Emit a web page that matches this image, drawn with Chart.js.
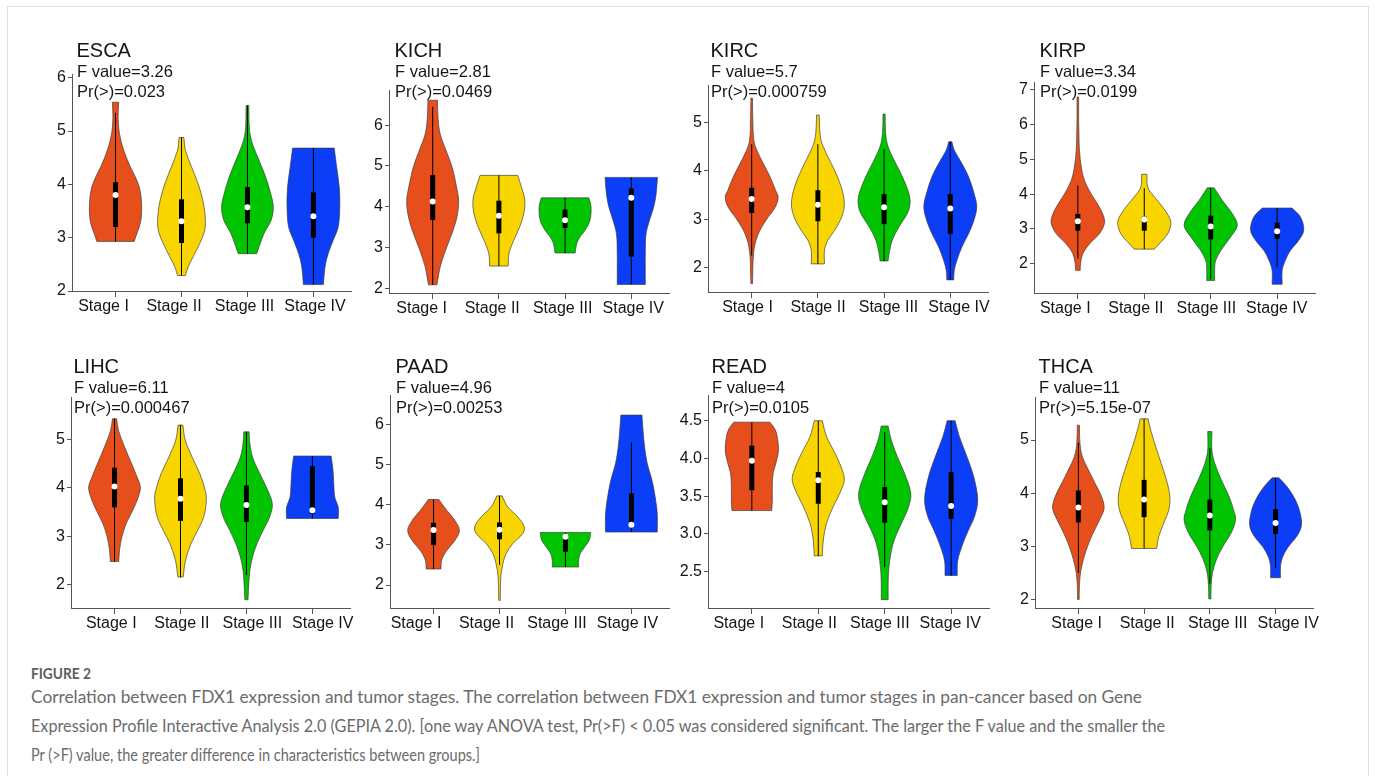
<!DOCTYPE html>
<html>
<head>
<meta charset="utf-8">
<title>FDX1 expression by tumor stage</title>
<script src="https://cdn.jsdelivr.net/npm/chart.js@4.4.1/dist/chart.umd.min.js"></script>
<style>
  html, body { margin: 0; padding: 0; background: #fff; }
  #page { position: relative; width: 1375px; height: 776px; overflow: hidden; background: #fff; }
  #frame { position: absolute; left: 7px; top: 6px; width: 1362px; height: 820px;
           border: 1.5px solid #dedede; border-bottom: none; box-sizing: border-box; }
  .cap { position: absolute; left: 31px; white-space: nowrap; font-family: Lato, "Open Sans", sans-serif;
         color: #6b6b6b; font-size: 17px; line-height: 17px; transform-origin: 0 0; }
  #capHead { font-weight: 700; color: #5e5e5e; font-size: 16px; }
</style>
</head>
<body>
<div id="page">
  <div id="frame"></div>
  <div class="cap" id="capHead">FIGURE 2</div>
  <div class="cap" id="cap1">Correlation between FDX1 expression and tumor stages. The correlation between FDX1 expression and tumor stages in pan-cancer based on Gene</div>
  <div class="cap" id="cap2">Expression Profile Interactive Analysis 2.0 (GEPIA 2.0). [one way ANOVA test, Pr(&gt;F) &lt; 0.05 was considered significant. The larger the F value and the smaller the</div>
  <div class="cap" id="cap3">Pr (&gt;F) value, the greater difference in characteristics between groups.]</div>
</div>
<script>
// ---------------- data ----------------
const STAGES = ['Stage I', 'Stage II', 'Stage III', 'Stage IV'];
const CANCERS = ['ESCA', 'KICH', 'KIRC', 'KIRP', 'LIHC', 'PAAD', 'READ', 'THCA'];
const F_VALUES = ['3.26', '2.81', '5.7', '3.34', '6.11', '4.96', '4', '11'];
const P_VALUES = ['0.023', '0.0469', '0.000759', '0.0199', '0.000467', '0.00253', '0.0105', '5.15e-07'];

// y-axis limits and tick values per cancer type
const ESCA_Y = [2, 6.07],   ESCA_TICKS = [2, 3, 4, 5, 6];
const KICH_Y = [1.89, 6.86], KICH_TICKS = [2, 3, 4, 5, 6];
const KIRC_Y = [1.5, 5.77], KIRC_TICKS = [2, 3, 4, 5];
const KIRP_Y = [1.16, 7.22], KIRP_TICKS = [2, 3, 4, 5, 6, 7];
const LIHC_Y = [1.52, 5.88], LIHC_TICKS = [2, 3, 4, 5];
const PAAD_Y = [1.43, 6.73], PAAD_TICKS = [2, 3, 4, 5, 6];
const READ_Y = [2.02, 4.84], READ_TICKS = [2.5, 3, 3.5, 4, 4.5];
const THCA_Y = [1.84, 5.81], THCA_TICKS = [2, 3, 4, 5];
const READ_TICK_LABELS = ['2.5', '3.0', '3.5', '4.0', '4.5'];

// violin density profiles: [expression value, relative half-width], bottom to top
const ESCA_I   = [[2.93,0.71],[3.08,0.81],[3.2,0.9],[3.39,0.98],[3.7,0.98],[3.95,0.9],[4.14,0.75],[4.33,0.56],[4.64,0.31],[4.95,0.15],[5.26,0.1],[5.54,0.12]];
const ESCA_II  = [[2.29,0.15],[2.45,0.25],[2.64,0.44],[2.89,0.69],[3.14,0.88],[3.39,0.9],[3.7,0.81],[4.01,0.63],[4.33,0.38],[4.64,0.15],[4.88,0.09]];
const ESCA_III = [[2.7,0.35],[2.83,0.44],[3.08,0.63],[3.33,0.9],[3.58,0.98],[3.83,0.88],[4.14,0.69],[4.45,0.44],[4.76,0.19],[5.01,0.08],[5.48,0.05]];
const ESCA_IV  = [[2.12,0.38],[2.45,0.44],[2.7,0.56],[2.95,0.75],[3.2,0.94],[3.58,1.0],[3.95,0.98],[4.33,0.88],[4.68,0.79]];

const KICH_I   = [[2.09,0.16],[2.2,0.19],[2.52,0.28],[2.85,0.44],[3.18,0.63],[3.5,0.81],[3.83,0.94],[4.16,0.98],[4.49,0.9],[4.98,0.73],[5.39,0.5],[5.79,0.28],[6.2,0.2],[6.61,0.18]];
const KICH_II  = [[2.55,0.35],[2.85,0.38],[3.18,0.56],[3.5,0.78],[3.83,0.94],[4.16,0.98],[4.49,0.85],[4.77,0.71]];
const KICH_III = [[2.87,0.38],[3.1,0.44],[3.26,0.56],[3.42,0.75],[3.67,0.94],[4.0,0.98],[4.22,0.9]];
const KICH_IV  = [[2.1,0.53],[2.36,0.53],[2.85,0.53],[3.34,0.56],[3.67,0.69],[4.0,0.85],[4.32,0.94],[4.72,0.99]];

const KIRC_I   = [[1.67,0.03],[1.88,0.04],[2.22,0.06],[2.5,0.13],[2.77,0.31],[3.05,0.63],[3.26,0.9],[3.46,1.0],[3.6,0.9],[3.88,0.69],[4.15,0.44],[4.43,0.19],[4.63,0.08],[5.12,0.04],[5.5,0.03]];
const KIRC_II  = [[2.08,0.25],[2.36,0.25],[2.57,0.38],[2.77,0.63],[3.05,0.9],[3.32,1.0],[3.67,0.88],[4.01,0.63],[4.29,0.38],[4.57,0.15],[4.77,0.08],[5.15,0.05]];
const KIRC_III = [[2.14,0.15],[2.29,0.19],[2.57,0.31],[2.84,0.56],[3.12,0.88],[3.32,0.98],[3.53,0.94],[3.88,0.69],[4.22,0.38],[4.5,0.15],[4.77,0.06],[5.17,0.04]];
const KIRC_IV  = [[1.75,0.13],[1.94,0.15],[2.15,0.25],[2.43,0.44],[2.7,0.69],[2.99,0.9],[3.26,1.0],[3.53,0.9],[3.88,0.69],[4.15,0.44],[4.43,0.15],[4.6,0.06]];

const KIRP_I   = [[1.81,0.09],[2.0,0.1],[2.29,0.19],[2.57,0.44],[2.86,0.81],[3.15,1.0],[3.34,0.98],[3.63,0.81],[4.01,0.5],[4.39,0.25],[4.78,0.13],[5.26,0.06],[5.74,0.04],[6.21,0.03],[6.79,0.03]];
const KIRP_II  = [[2.42,0.38],[2.57,0.56],[2.86,0.88],[3.15,1.0],[3.34,0.94],[3.63,0.69],[3.92,0.38],[4.2,0.13],[4.57,0.1]];
const KIRP_III = [[1.52,0.15],[1.9,0.15],[2.1,0.19],[2.38,0.38],[2.77,0.75],[3.1,1.0],[3.44,0.81],[3.82,0.44],[4.18,0.13]];
const KIRP_IV  = [[1.41,0.19],[1.81,0.19],[2.1,0.31],[2.38,0.5],[2.67,0.81],[2.96,1.0],[3.34,0.88],[3.6,0.56]];

const LIHC_I   = [[2.48,0.16],[2.71,0.19],[2.99,0.28],[3.26,0.44],[3.54,0.69],[3.81,0.9],[4.02,0.98],[4.23,0.85],[4.5,0.65],[4.85,0.38],[5.19,0.15],[5.43,0.08]];
const LIHC_II  = [[2.16,0.1],[2.5,0.19],[2.85,0.4],[3.12,0.65],[3.4,0.88],[3.74,0.98],[3.95,0.94],[4.3,0.73],[4.64,0.44],[4.99,0.18],[5.3,0.09]];
const LIHC_III = [[1.69,0.06],[2.02,0.09],[2.3,0.13],[2.57,0.23],[2.85,0.4],[3.12,0.63],[3.4,0.88],[3.68,0.98],[4.02,0.75],[4.37,0.44],[4.64,0.23],[4.92,0.13],[5.16,0.1]];
const LIHC_IV  = [[3.37,0.98],[3.6,0.98],[3.81,0.85],[4.09,0.81],[4.37,0.78],[4.66,0.71]];

const PAAD_I   = [[2.4,0.28],[2.62,0.31],[2.86,0.5],[3.11,0.81],[3.36,0.98],[3.61,0.81],[3.86,0.5],[4.13,0.2]];
const PAAD_II  = [[1.62,0.03],[2.2,0.05],[2.53,0.13],[2.78,0.25],[3.03,0.5],[3.28,0.88],[3.45,0.94],[3.7,0.69],[3.95,0.31],[4.22,0.1]];
const PAAD_III = [[2.45,0.5],[2.62,0.5],[2.78,0.56],[2.95,0.73],[3.11,0.9],[3.31,0.96]];
const PAAD_IV  = [[3.32,0.98],[3.78,0.98],[4.2,0.9],[4.61,0.78],[5.03,0.6],[5.44,0.5],[5.86,0.44],[6.23,0.4]];

const READ_I   = [[3.31,0.75],[3.45,0.77],[3.62,0.77],[3.8,0.8],[3.93,0.9],[4.1,1.0],[4.3,0.95],[4.4,0.85],[4.48,0.68]];
const READ_II  = [[2.71,0.15],[2.92,0.19],[3.14,0.31],[3.36,0.56],[3.54,0.81],[3.71,0.98],[3.85,0.9],[4.07,0.63],[4.29,0.31],[4.5,0.15]];
const READ_III = [[2.13,0.13],[2.34,0.13],[2.52,0.15],[2.78,0.25],[2.96,0.4],[3.14,0.63],[3.36,0.9],[3.54,0.98],[3.8,0.75],[4.02,0.48],[4.24,0.25],[4.43,0.13]];
const READ_IV  = [[2.45,0.23],[2.65,0.25],[2.87,0.44],[3.05,0.65],[3.23,0.88],[3.45,1.0],[3.76,0.85],[4.02,0.6],[4.29,0.31],[4.5,0.15]];

const THCA_I   = [[2.0,0.03],[2.25,0.04],[2.5,0.08],[2.75,0.19],[3.0,0.35],[3.25,0.56],[3.5,0.81],[3.72,0.98],[3.94,0.88],[4.19,0.63],[4.44,0.38],[4.69,0.15],[4.94,0.06],[5.28,0.04]];
const THCA_II  = [[2.96,0.48],[3.19,0.56],[3.44,0.75],[3.69,0.94],[3.94,0.98],[4.25,0.85],[4.56,0.65],[4.88,0.44],[5.19,0.25],[5.4,0.15]];
const THCA_III = [[2.01,0.04],[2.25,0.05],[2.5,0.1],[2.75,0.25],[3.0,0.5],[3.25,0.81],[3.5,0.98],[3.69,0.9],[3.94,0.73],[4.25,0.44],[4.56,0.19],[4.81,0.08],[5.16,0.08]];
const THCA_IV  = [[2.41,0.19],[2.63,0.19],[2.81,0.28],[3.0,0.5],[3.19,0.81],[3.38,0.98],[3.62,0.94],[3.88,0.75],[4.12,0.44],[4.29,0.13]];

// box summaries per stage: [whisker low, Q1, median, Q3, whisker high]
const ESCA_BOX = [[2.93,3.2,3.8,4.04,5.34],[2.29,2.9,3.31,3.72,4.88],[2.7,3.27,3.57,3.95,5.48],[2.12,3.0,3.4,3.85,4.68]];
const KICH_BOX = [[2.09,3.68,4.13,4.78,6.45],[2.55,3.35,3.78,4.15,4.77],[2.87,3.48,3.67,3.93,4.22],[2.1,2.78,4.22,4.45,4.72]];
const KIRC_BOX = [[2.25,3.13,3.42,3.65,4.55],[2.08,2.96,3.3,3.6,4.55],[2.14,2.9,3.25,3.52,4.45],[1.75,2.7,3.22,3.52,4.6]];
const KIRP_BOX = [[2.15,2.95,3.22,3.43,4.25],[2.42,2.95,3.27,3.35,4.17],[1.55,2.7,3.07,3.38,4.18],[1.9,2.72,2.93,3.18,3.6]];
const LIHC_BOX = [[2.48,3.6,4.03,4.42,5.43],[2.16,3.32,3.78,4.2,5.3],[2.2,3.3,3.65,4.05,5.16],[3.37,3.47,3.54,4.45,4.66]];
const PAAD_BOX = [[2.4,3.0,3.37,3.55,4.13],[2.5,3.14,3.38,3.56,4.22],[2.45,2.83,3.2,3.22,3.31],[3.32,3.48,3.5,4.28,5.55]];
const READ_BOX = [[3.31,3.58,3.97,4.17,4.48],[2.71,3.4,3.71,3.82,4.5],[2.56,3.15,3.42,3.62,4.35],[2.45,3.2,3.37,3.82,4.5]];
const THCA_BOX = [[2.5,3.45,3.73,4.05,4.95],[2.96,3.55,3.88,4.25,5.4],[2.3,3.3,3.58,3.88,4.85],[2.6,3.23,3.44,3.7,4.29]];

// ---------------- styling & layout ----------------
const STAGE_COLORS = ['#E64E1C', '#F9D500', '#00C400', '#0B3EF6'];
const OUTLINE = 'rgba(60,60,60,0.85)';
const AXIS_COLOR = '#555';
const TEXT_COLOR = '#151515';
const FONT = '"Liberation Sans", Arial, sans-serif';
const HALF_WIDTH = 0.4;          // widest violin half-width, in category units
const X_MIN = 0.34, X_MAX = 4.57;
const AXIS_W = 52, TICK_H = 6, LABEL_H = 28, PAD_R = 14;
const LABEL_STEP = 70.5;         // pixel spacing of the stage labels

// plot rectangles in page pixels: [left, top, right, bottom], text x-offset,
// centre of the first stage label, row
const LAYOUT = [
  { rect: [72, 74, 351, 291],    dx: 5, label0: 103.5,  row: 0 },
  { rect: [389, 90, 669, 293],   dx: 6, label0: 421.7,  row: 0 },
  { rect: [708, 85, 988, 292],   dx: 3, label0: 747.5,  row: 0 },
  { rect: [1034, 82, 1315, 293], dx: 6, label0: 1065.3, row: 0 },
  { rect: [71, 397, 350, 608],   dx: 3, label0: 111.3,  row: 1 },
  { rect: [390, 395, 669, 608],  dx: 6, label0: 416,    row: 1 },
  { rect: [708, 395, 989, 608],  dx: 4, label0: 738.8,  row: 1 },
  { rect: [1035, 397, 1313, 608], dx: 4, label0: 1076.7, row: 1 }
];
const ROW_TOP = [20, 335];
const TEXT_BASE = [[56.5, 77, 96.5], [373, 392.5, 412.5]];

const PANELS = [
  { violins: [ESCA_I, ESCA_II, ESCA_III, ESCA_IV], box: ESCA_BOX, y: ESCA_Y, ticks: ESCA_TICKS },
  { violins: [KICH_I, KICH_II, KICH_III, KICH_IV], box: KICH_BOX, y: KICH_Y, ticks: KICH_TICKS },
  { violins: [KIRC_I, KIRC_II, KIRC_III, KIRC_IV], box: KIRC_BOX, y: KIRC_Y, ticks: KIRC_TICKS },
  { violins: [KIRP_I, KIRP_II, KIRP_III, KIRP_IV], box: KIRP_BOX, y: KIRP_Y, ticks: KIRP_TICKS },
  { violins: [LIHC_I, LIHC_II, LIHC_III, LIHC_IV], box: LIHC_BOX, y: LIHC_Y, ticks: LIHC_TICKS },
  { violins: [PAAD_I, PAAD_II, PAAD_III, PAAD_IV], box: PAAD_BOX, y: PAAD_Y, ticks: PAAD_TICKS },
  { violins: [READ_I, READ_II, READ_III, READ_IV], box: READ_BOX, y: READ_Y, ticks: READ_TICKS, labels: READ_TICK_LABELS },
  { violins: [THCA_I, THCA_II, THCA_III, THCA_IV], box: THCA_BOX, y: THCA_Y, ticks: THCA_TICKS }
];

// closed outline of one violin; the trimmed ends are kept square by repeating the corner points
function violinPoints(center, profile) {
  const n = profile.length;
  const right = profile.map(([v, d]) => ({ x: center + d * HALF_WIDTH, y: v }));
  const left = profile.map(([v, d]) => ({ x: center - d * HALF_WIDTH, y: v })).reverse();
  const pts = [left[n - 1], right[0], right[0]];
  for (let i = 1; i < n - 1; i++) pts.push(right[i]);
  pts.push(right[n - 1], right[n - 1], left[0], left[0]);
  for (let i = 1; i < n - 1; i++) pts.push(left[i]);
  pts.push(left[n - 1]);
  return pts;
}

// cancer name and ANOVA statistics in the top-left corner of each panel
const panelText = {
  id: 'panelText',
  afterDraw(chart, args, opts) {
    const ctx = chart.ctx;
    const x = chart.chartArea.left + opts.dx;
    ctx.save();
    ctx.fillStyle = TEXT_COLOR;
    ctx.textAlign = 'left';
    ctx.textBaseline = 'alphabetic';
    ctx.font = '20px ' + FONT;
    ctx.fillText(opts.title, x - 0.5, opts.base[0]);
    ctx.font = '16.5px ' + FONT;
    ctx.fillText('F value=' + opts.f, x, opts.base[1]);
    ctx.fillText('Pr(>)=' + opts.p, x, opts.base[2]);
    ctx.restore();
  }
};

const page = document.getElementById('page');

PANELS.forEach((panel, k) => {
  const lay = LAYOUT[k];
  const [L, T, R, B] = lay.rect;
  const rowTop = ROW_TOP[lay.row];
  const W = (R - L) + AXIS_W + PAD_R;
  const H = (B - rowTop) + TICK_H + LABEL_H;
  const canvas = document.createElement('canvas');
  canvas.width = W; canvas.height = H;
  canvas.style.cssText = `position:absolute;left:${L - AXIS_W}px;top:${rowTop}px;width:${W}px;height:${H}px;`;
  page.appendChild(canvas);

  const datasets = [];
  panel.violins.forEach((profile, i) => {
    datasets.push({
      data: violinPoints(i + 1, profile), showLine: true, fill: 'shape',
      backgroundColor: STAGE_COLORS[i], borderColor: OUTLINE, borderWidth: 0.8,
      pointRadius: 0, pointHoverRadius: 0, tension: 0.35, order: 4
    });
  });
  panel.box.forEach(([lo, q1, med, q3, hi], i) => {
    datasets.push({
      data: [{ x: i + 1, y: lo }, { x: i + 1, y: hi }], showLine: true, fill: false,
      borderColor: '#000', borderWidth: 1, pointRadius: 0, pointHoverRadius: 0, order: 3
    });
    datasets.push({
      data: [{ x: i + 1, y: q1 }, { x: i + 1, y: q3 }], showLine: true, fill: false,
      borderColor: '#000', borderWidth: 5, borderCapStyle: 'butt', pointRadius: 0, pointHoverRadius: 0, order: 2
    });
  });
  datasets.push({
    data: panel.box.map((b, i) => ({ x: i + 1, y: b[2] })), showLine: false,
    pointRadius: 3, pointHoverRadius: 3, backgroundColor: '#fff', borderWidth: 0, order: 1
  });

  const yLabels = panel.labels || panel.ticks.map(String);
  const rb = TEXT_BASE[lay.row].map(v => v - rowTop);
  // the stage names sit on their own axis, spaced a little wider than the tick marks
  const lMin = 1 - (lay.label0 - L) / LABEL_STEP;
  const lMax = lMin + (R - L) / LABEL_STEP;

  new Chart(canvas, {
    type: 'scatter',
    data: { datasets },
    plugins: [panelText],
    options: {
      responsive: false,
      animation: false,
      devicePixelRatio: 1,
      events: [],
      layout: { padding: { top: T - rowTop, left: 0, right: PAD_R, bottom: 0 } },
      plugins: {
        legend: { display: false },
        tooltip: { enabled: false },
        panelText: { title: CANCERS[k], f: F_VALUES[k], p: P_VALUES[k], dx: lay.dx, base: rb }
      },
      scales: {
        x: {
          type: 'linear', position: 'bottom', weight: 0, min: X_MIN, max: X_MAX,
          afterBuildTicks: s => { s.ticks = STAGES.map((_, i) => ({ value: i + 1 })); },
          afterFit: s => { s.height = TICK_H; },
          grid: { drawOnChartArea: false, drawTicks: true, tickLength: TICK_H, color: AXIS_COLOR, lineWidth: 1 },
          border: { display: true, color: AXIS_COLOR, width: 1 },
          ticks: { display: false, autoSkip: false }
        },
        xl: {
          type: 'linear', axis: 'x', position: 'bottom', weight: 1, min: lMin, max: lMax,
          afterBuildTicks: s => { s.ticks = STAGES.map((_, i) => ({ value: i + 1 })); },
          afterFit: s => { s.height = LABEL_H; },
          grid: { display: false, drawTicks: false },
          border: { display: false },
          ticks: {
            callback: v => STAGES[Math.round(v) - 1],
            font: { family: FONT, size: 16 }, color: TEXT_COLOR,
            padding: 0, maxRotation: 0, autoSkip: false
          }
        },
        y: {
          type: 'linear', min: panel.y[0], max: panel.y[1],
          afterBuildTicks: s => { s.ticks = panel.ticks.map(v => ({ value: v })); },
          afterFit: s => { s.width = AXIS_W; },
          grid: { drawOnChartArea: false, drawTicks: true, tickLength: 4, color: AXIS_COLOR, lineWidth: 1 },
          border: { display: true, color: AXIS_COLOR, width: 1 },
          ticks: {
            callback: (v, i) => yLabels[i],
            font: { family: FONT, size: 16 }, color: TEXT_COLOR,
            padding: 2, autoSkip: false
          }
        }
      }
    }
  });
});

// caption block: baselines and line widths of the figure legend
const CAPTION_LINES = [
  ['capHead', 678.3, 60],
  ['cap1', 702.7, 1111],
  ['cap2', 731.7, 1134],
  ['cap3', 760.7, 449]
];
CAPTION_LINES.forEach(([id, base, width]) => {
  const el = document.getElementById(id);
  const size = parseFloat(getComputedStyle(el).fontSize);
  el.style.top = (base - size * 0.89) + 'px';
  const natural = el.getBoundingClientRect().width;
  el.style.transform = `scaleX(${width / natural})`;
});
</script>
</body>
</html>
